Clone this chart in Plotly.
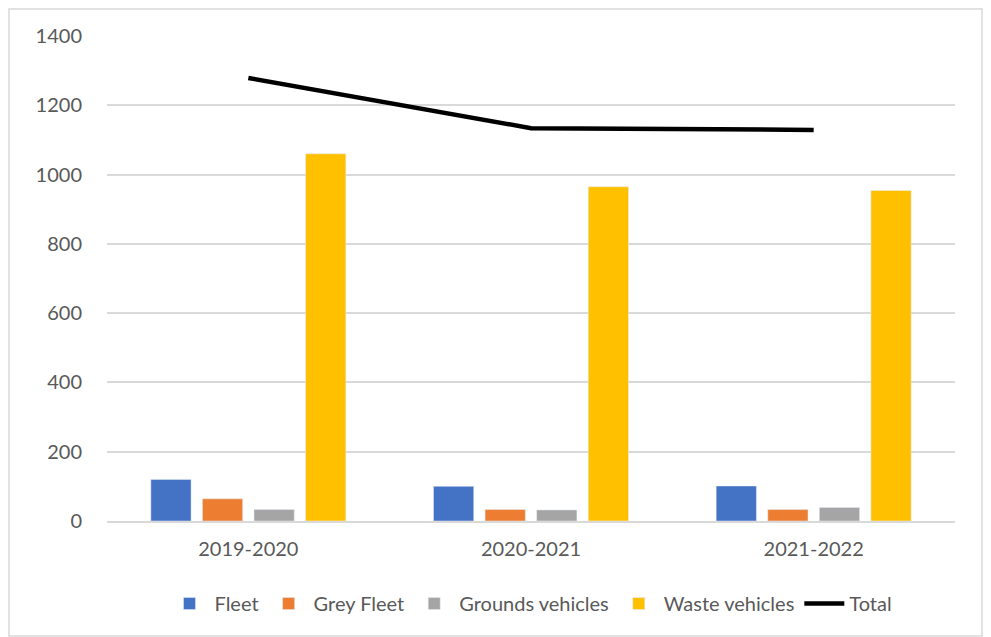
import plotly.graph_objects as go

categories = ["2019-2020", "2020-2021", "2021-2022"]
fleet = [120, 100, 101]
grey_fleet = [64, 33, 33]
grounds = [33, 32, 39]
waste = [1060, 965, 954]
total = [1279, 1134, 1129]
y_ticks = [0, 200, 400, 600, 800, 1000, 1200, 1400]

FONT = "Lato, Open Sans, sans-serif"

W, H = 983, 629
L, R, T, B = 99, 36, 28, 116
PW, PH = W - L - R, H - T - B

fig = go.Figure()
fig.add_bar(x=categories, y=fleet, name="Fleet", marker_color="#4472C4")
fig.add_bar(x=categories, y=grey_fleet, name="Grey Fleet", marker_color="#ED7D31")
fig.add_bar(x=categories, y=grounds, name="Grounds vehicles", marker_color="#A5A5A5")
fig.add_bar(x=categories, y=waste, name="Waste vehicles", marker_color="#FFC000")
fig.add_scatter(x=categories, y=total, name="Total", mode="lines",
                line=dict(color="#000000", width=4.5))

fig.update_layout(
    width=W, height=H,
    paper_bgcolor="white", plot_bgcolor="white",
    margin=dict(l=L, r=R, t=T, b=B, autoexpand=False),
    barmode="group", bargap=0.27, bargroupgap=0.22,
    font=dict(family=FONT, size=20, color="#595959"),
    showlegend=True,
    legend=dict(orientation="h", x=0.5, xanchor="center", y=-0.13, yanchor="top",
                font=dict(size=20, color="#595959"), traceorder="normal",
                itemwidth=40),
    xaxis=dict(showgrid=False, showline=True, linecolor="#d9d9d9", linewidth=1.5,
               ticks="", tickfont=dict(size=20), ticklabelstandoff=9),
    yaxis=dict(range=[0, 1400], tickvals=y_ticks, showgrid=True, gridcolor="#d9d9d9",
               gridwidth=1.5, zeroline=False, ticks="", tickfont=dict(size=20),
               ticklabelstandoff=24),
    shapes=[dict(type="rect", xref="paper", yref="paper",
                 x0=-L / PW + 1 / PW, x1=(974 - L) / PW, y0=-B / PH + 1 / PH,
                 y1=1 + (T - 1) / PH,
                 line=dict(color="#d9d9d9", width=1.5))],
)

fig.write_html("out.html")
